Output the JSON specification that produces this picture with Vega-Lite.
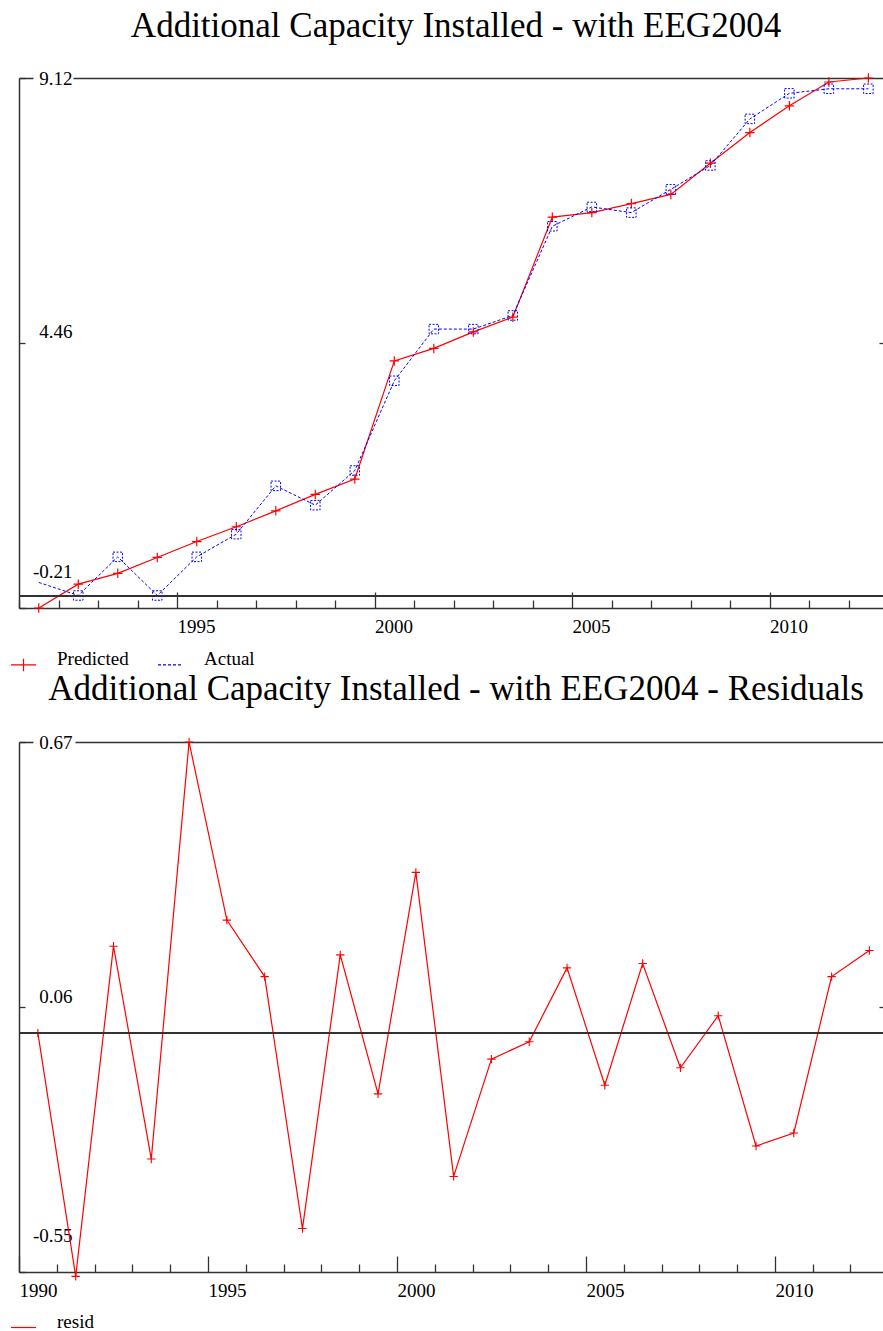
{
  "$schema": "https://vega.github.io/schema/vega-lite/v6.json",
  "padding": {"left": 10, "top": 9, "right": 0, "bottom": 0},
  "background": "white",
  "config": {
    "view": {"stroke": null},
    "font": "Liberation Serif",
    "title": {"font": "Liberation Serif", "fontSize": 35, "fontWeight": "normal", "color": "black", "anchor": "middle", "frame": "group", "baseline": "alphabetic", "dx": 5}
  },
  "datasets": {
    "fit": [
      {"t": 1991.5, "series": "Predicted", "value": -0.21},
      {"t": 1992.5, "series": "Predicted", "value": 0.21},
      {"t": 1993.5, "series": "Predicted", "value": 0.40},
      {"t": 1994.5, "series": "Predicted", "value": 0.68},
      {"t": 1995.5, "series": "Predicted", "value": 0.96},
      {"t": 1996.5, "series": "Predicted", "value": 1.22},
      {"t": 1997.5, "series": "Predicted", "value": 1.50},
      {"t": 1998.5, "series": "Predicted", "value": 1.79},
      {"t": 1999.5, "series": "Predicted", "value": 2.06},
      {"t": 2000.5, "series": "Predicted", "value": 4.14},
      {"t": 2001.5, "series": "Predicted", "value": 4.36},
      {"t": 2002.5, "series": "Predicted", "value": 4.65},
      {"t": 2003.5, "series": "Predicted", "value": 4.91},
      {"t": 2004.5, "series": "Predicted", "value": 6.67},
      {"t": 2005.5, "series": "Predicted", "value": 6.75},
      {"t": 2006.5, "series": "Predicted", "value": 6.91},
      {"t": 2007.5, "series": "Predicted", "value": 7.07},
      {"t": 2008.5, "series": "Predicted", "value": 7.62},
      {"t": 2009.5, "series": "Predicted", "value": 8.16},
      {"t": 2010.5, "series": "Predicted", "value": 8.63},
      {"t": 2011.5, "series": "Predicted", "value": 9.05},
      {"t": 2012.5, "series": "Predicted", "value": 9.12},
      {"t": 1991.5, "series": "Actual", "value": 0.24},
      {"t": 1992.5, "series": "Actual", "value": 0.01},
      {"t": 1993.5, "series": "Actual", "value": 0.69},
      {"t": 1994.5, "series": "Actual", "value": 0.01},
      {"t": 1995.5, "series": "Actual", "value": 0.69},
      {"t": 1996.5, "series": "Actual", "value": 1.09},
      {"t": 1997.5, "series": "Actual", "value": 1.94},
      {"t": 1998.5, "series": "Actual", "value": 1.60},
      {"t": 1999.5, "series": "Actual", "value": 2.21},
      {"t": 2000.5, "series": "Actual", "value": 3.79},
      {"t": 2001.5, "series": "Actual", "value": 4.70},
      {"t": 2002.5, "series": "Actual", "value": 4.70},
      {"t": 2003.5, "series": "Actual", "value": 4.94},
      {"t": 2004.5, "series": "Actual", "value": 6.51},
      {"t": 2005.5, "series": "Actual", "value": 6.85},
      {"t": 2006.5, "series": "Actual", "value": 6.75},
      {"t": 2007.5, "series": "Actual", "value": 7.16},
      {"t": 2008.5, "series": "Actual", "value": 7.58},
      {"t": 2009.5, "series": "Actual", "value": 8.40},
      {"t": 2010.5, "series": "Actual", "value": 8.85},
      {"t": 2011.5, "series": "Actual", "value": 8.93},
      {"t": 2012.5, "series": "Actual", "value": 8.93}
    ],
    "res": [
      {"t": 1990.5, "series": "resid", "value": 0.00},
      {"t": 1991.5, "series": "resid", "value": -0.56},
      {"t": 1992.5, "series": "resid", "value": 0.20},
      {"t": 1993.5, "series": "resid", "value": -0.29},
      {"t": 1994.5, "series": "resid", "value": 0.67},
      {"t": 1995.5, "series": "resid", "value": 0.26},
      {"t": 1996.5, "series": "resid", "value": 0.13},
      {"t": 1997.5, "series": "resid", "value": -0.45},
      {"t": 1998.5, "series": "resid", "value": 0.18},
      {"t": 1999.5, "series": "resid", "value": -0.14},
      {"t": 2000.5, "series": "resid", "value": 0.37},
      {"t": 2001.5, "series": "resid", "value": -0.33},
      {"t": 2002.5, "series": "resid", "value": -0.06},
      {"t": 2003.5, "series": "resid", "value": -0.02},
      {"t": 2004.5, "series": "resid", "value": 0.15},
      {"t": 2005.5, "series": "resid", "value": -0.12},
      {"t": 2006.5, "series": "resid", "value": 0.16},
      {"t": 2007.5, "series": "resid", "value": -0.08},
      {"t": 2008.5, "series": "resid", "value": 0.04},
      {"t": 2009.5, "series": "resid", "value": -0.26},
      {"t": 2010.5, "series": "resid", "value": -0.23},
      {"t": 2011.5, "series": "resid", "value": 0.13},
      {"t": 2012.5, "series": "resid", "value": 0.19}
    ]
  },
  "resolve": {"scale": {"color": "independent", "x": "independent", "y": "independent"}, "legend": {"color": "independent"}},
  "spacing": -2,
  "vconcat": [
    {
      "width": 864,
      "height": 530,
      "title": {"text": "Additional Capacity Installed - with EEG2004", "offset": 25},
      "data": {"name": "fit"},
      "resolve": {"axis": {"y": "independent"}},
      "layer": [
        {
          "transform": [{"filter": "datum.series == 'Predicted'"}],
          "mark": {"type": "line", "strokeWidth": 1.2},
          "encoding": {
            "x": {"field": "t", "type": "quantitative", "scale": {"domain": [1991, 2012.87], "nice": false, "zero": false},
              "axis": {
                "values": [1991, 1992, 1993, 1994, 1995, 1996, 1997, 1998, 1999, 2000, 2001, 2002, 2003, 2004, 2005, 2006, 2007, 2008, 2009, 2010, 2011, 2012],
                "tickCount": 40,
                "title": null, "grid": false, "format": "d",
                "domainColor": "#333", "domainWidth": 1.5,
                "tickColor": "#333", "tickWidth": 1.3,
                "tickSize": {"condition": {"test": "datum.value % 5 == 0", "value": -16}, "value": -8},
                "labelExpr": "datum.value % 5 == 0 ? datum.label : ''",
                "labelAlign": "left", "labelBaseline": "top", "labelPadding": 25,
                "labelFont": "Liberation Serif", "labelFontSize": 19, "labelColor": "black",
                "labelFlush": false, "labelOverlap": false, "labelBound": false
              }
            },
            "y": {"field": "value", "type": "quantitative", "scale": {"domain": [-0.21, 9.12], "nice": false, "zero": false},
              "axis": {
                "values": [-0.21, 4.46, 9.12], "title": null,
                "domainColor": "#333", "domainWidth": 1.5,
                "tickColor": "#333", "tickWidth": 1.3, "tickSize": -6,
                "labelExpr": "(datum.value < 0 ? '-' : '') + format(abs(datum.value), '.2f')",
                "labelAlign": "right", "labelBaseline": "middle", "labelPadding": -47,
                "labelOffset": {"condition": [{"test": "datum.value < 0", "value": -37}, {"test": "datum.value > 4 && datum.value < 5", "value": -11}], "value": 0},
                "labelFont": "Liberation Serif", "labelFontSize": 19, "labelColor": "black",
                "grid": true, "gridColor": "#333", "gridWidth": 1.5,
                "gridOpacity": {"condition": {"test": "datum.value > 9", "value": 1}, "value": 0},
                "gridDash": [14, 40, 2000],
                "labelFlush": false, "labelOverlap": false, "labelBound": false
              }
            },
            "color": {"field": "series", "type": "nominal", "scale": {"domain": ["Predicted", "Actual"], "range": ["#ff0000", "#0000ff"]},
              "legend": {
                "orient": "none", "legendX": -9, "legendY": 573, "direction": "horizontal", "title": null,
                "padding": 0, "labelFont": "Liberation Serif", "labelFontSize": 19, "labelColor": "black", "labelBaseline": "alphabetic",
                "symbolSize": 625, "symbolStrokeWidth": 1.2, "labelOffset": 20, "columnPadding": 26,
                "symbolType": "M-1,0H1",
                "encode": {"symbols": {"update": {
                  "shape": {"signal": "datum.value == 'Predicted' ? 'M-1,0H1M0,-0.5V0.5' : 'M-1,0H1M0,-0.5M0,0.5'"},
                  "strokeDash": {"signal": "datum.value == 'Actual' ? [3,2] : [1,0]"},
                  "fill": {"value": "transparent"}
                }}}
              }
            }
          }
        },
        {
          "transform": [{"filter": "datum.series == 'Actual'"}],
          "mark": {"type": "line", "strokeWidth": 1, "strokeDash": [3, 2]},
          "encoding": {
            "x": {"field": "t", "type": "quantitative"},
            "y": {"field": "value", "type": "quantitative", "axis": null},
            "color": {"field": "series", "type": "nominal"}
          }
        },
        {
          "transform": [{"filter": "datum.series == 'Predicted'"}],
          "mark": {"type": "point", "filled": false, "strokeWidth": 1.2, "size": 90, "opacity": 1, "shape": "M-1,0H1M0,-1V1"},
          "encoding": {
            "x": {"field": "t", "type": "quantitative"},
            "y": {"field": "value", "type": "quantitative", "axis": null},
            "color": {"field": "series", "type": "nominal"}
          }
        },
        {
          "transform": [{"filter": "datum.series == 'Actual' && datum.t > 1992"}],
          "mark": {"type": "point", "filled": false, "strokeWidth": 1, "size": 90, "opacity": 1, "shape": "square", "strokeDash": [2, 1.5]},
          "encoding": {
            "x": {"field": "t", "type": "quantitative"},
            "y": {"field": "value", "type": "quantitative", "axis": null},
            "color": {"field": "series", "type": "nominal"}
          }
        },
        {
          "mark": {"type": "rule", "color": "#333", "strokeWidth": 1.5},
          "encoding": {
            "y": {"datum": 0, "type": "quantitative",
              "axis": {"orient": "right", "values": [4.46], "title": null, "labels": false, "domain": false, "grid": false, "ticks": true, "tickSize": -4, "tickColor": "#333", "tickWidth": 1.3}
            }
          }
        }
      ]
    },
    {
      "width": 864,
      "height": 530,
      "title": {"text": "Additional Capacity Installed - with EEG2004 - Residuals", "offset": 26},
      "data": {"name": "res"},
      "resolve": {"axis": {"y": "independent"}},
      "layer": [
        {
          "mark": {"type": "line", "strokeWidth": 1.2},
          "encoding": {
            "x": {"field": "t", "type": "quantitative", "scale": {"domain": [1990, 2012.86], "nice": false, "zero": false},
              "axis": {
                "values": [1990, 1991, 1992, 1993, 1994, 1995, 1996, 1997, 1998, 1999, 2000, 2001, 2002, 2003, 2004, 2005, 2006, 2007, 2008, 2009, 2010, 2011, 2012],
                "tickCount": 40,
                "title": null, "grid": false, "format": "d",
                "domainColor": "#333", "domainWidth": 1.5,
                "tickColor": "#333", "tickWidth": 1.3,
                "tickSize": {"condition": {"test": "datum.value % 5 == 0", "value": -16}, "value": -8},
                "labelExpr": "datum.value % 5 == 0 ? datum.label : ''",
                "labelAlign": "left", "labelBaseline": "top", "labelPadding": 25,
                "labelFont": "Liberation Serif", "labelFontSize": 19, "labelColor": "black",
                "labelFlush": false, "labelOverlap": false, "labelBound": false
              }
            },
            "y": {"field": "value", "type": "quantitative", "scale": {"domain": [-0.55, 0.67], "nice": false, "zero": false},
              "axis": {
                "values": [-0.55, 0.06, 0.67], "title": null,
                "domainColor": "#333", "domainWidth": 1.5,
                "tickColor": "#333", "tickWidth": 1.3, "tickSize": -6,
                "labelExpr": "(datum.value < 0 ? '-' : '') + format(abs(datum.value), '.2f')",
                "labelAlign": "right", "labelBaseline": "middle", "labelPadding": -47,
                "labelOffset": {"condition": [{"test": "datum.value < 0", "value": -37}, {"test": "datum.value > 0 && datum.value < 0.5", "value": -11}], "value": 0},
                "labelFont": "Liberation Serif", "labelFontSize": 19, "labelColor": "black",
                "grid": true, "gridColor": "#333", "gridWidth": 1.5,
                "gridOpacity": {"condition": {"test": "datum.value > 0.6", "value": 1}, "value": 0},
                "gridDash": [14, 42, 2000],
                "labelFlush": false, "labelOverlap": false, "labelBound": false
              }
            },
            "color": {"field": "series", "type": "nominal", "scale": {"domain": ["resid"], "range": ["#ff0000"]},
              "legend": {
                "orient": "none", "legendX": -9, "legendY": 572, "direction": "horizontal", "title": null,
                "padding": 0, "labelFont": "Liberation Serif", "labelFontSize": 19, "labelColor": "black", "labelBaseline": "alphabetic",
                "symbolSize": 625, "symbolStrokeWidth": 1.2, "labelOffset": 20,
                "symbolType": "M-1,0H1",
                "encode": {"symbols": {"update": {
                  "shape": {"value": "M-1,0H1"},
                  "fill": {"value": "transparent"}
                }}}
              }
            }
          }
        },
        {
          "mark": {"type": "point", "filled": false, "strokeWidth": 1.1, "size": 70, "opacity": 1, "shape": "M-1,0H1M0,-1V1"},
          "encoding": {
            "x": {"field": "t", "type": "quantitative"},
            "y": {"field": "value", "type": "quantitative", "axis": null},
            "color": {"field": "series", "type": "nominal"}
          }
        },
        {
          "mark": {"type": "rule", "color": "#333", "strokeWidth": 1.5},
          "encoding": {
            "y": {"datum": 0, "type": "quantitative",
              "axis": {"orient": "right", "values": [0.06], "title": null, "labels": false, "domain": false, "grid": false, "ticks": true, "tickSize": -4, "tickColor": "#333", "tickWidth": 1.3}
            }
          }
        }
      ]
    }
  ]
}
